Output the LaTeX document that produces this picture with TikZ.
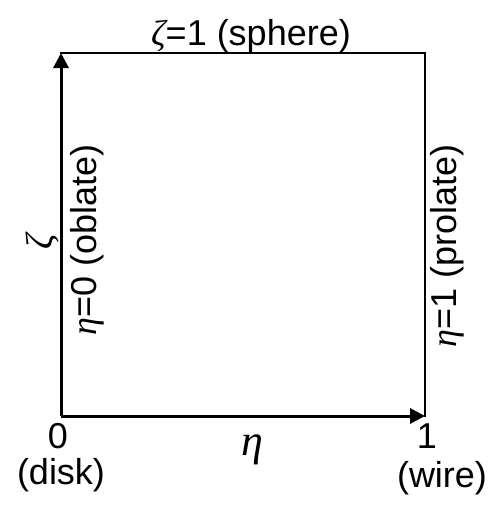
\documentclass[tikz,border=0pt]{standalone}
\usepackage{fontspec}
\setmainfont{Liberation Sans}
\newfontfamily\grkfont{Liberation Serif}
\usetikzlibrary{arrows.meta}
\newcommand{\lbl}{\fontsize{36}{42}\selectfont}
\newcommand{\gk}[1]{{\grkfont\itshape #1}}
\begin{document}
\begin{tikzpicture}[x=1pt,y=-1pt,
  axisline/.style={line width=3pt,-{Triangle[length=15pt,width=15pt]}},
  frameline/.style={line width=2pt},
  txt/.style={inner sep=0pt,font=\lbl}]
\useasboundingbox (0,0) rectangle (494,506);
\coordinate (O) at (61,416);
\coordinate (X) at (425,416);
\coordinate (Y) at (61,53);
\coordinate (C) at (425,53);
\draw[frameline,line cap=rect] (Y) -- (C) -- (X);
\draw[axisline] (O) -- (Y);
\draw[axisline] (O) -- (X);
\node[txt,anchor=base] (top) at (251,45) {\gk{ζ}=1 (sphere)};
\node[txt,rotate=90] (left) at (87,240) {\gk{η}=0 (oblate)};
\node[txt,rotate=90] (right) at (447,246) {\gk{η}=1 (prolate)};
\node[txt,anchor=base] (zero) at (58,448) {0};
\node[txt,anchor=base] (disk) at (61,484) {(disk)};
\node[txt,anchor=base] (one) at (427,448) {1};
\node[txt,anchor=base] (wire) at (442,487) {(wire)};
\node[txt,anchor=base,font=\fontsize{44}{50}\selectfont] (eta) at (252,455) {\gk{η}};
\node[txt,rotate=90,font=\fontsize{38}{44}\selectfont] (zeta) at (42,242) {\gk{ζ}};
\end{tikzpicture}
\end{document}
